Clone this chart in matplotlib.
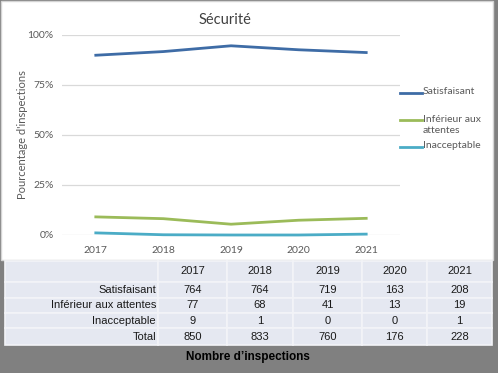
import matplotlib
matplotlib.use("Agg")
import matplotlib.pyplot as plt
from matplotlib.patches import Rectangle
from matplotlib.lines import Line2D

years = ['2017', '2018', '2019', '2020', '2021']
series = ['Satisfaisant', 'Inférieur aux attentes', 'Inacceptable']
satisfaisant = [764, 764, 719, 163, 208]
inferieur = [77, 68, 41, 13, 19]
inacceptable = [9, 1, 0, 0, 1]
total = [850, 833, 760, 176, 228]
legend_labels = ['Satisfaisant', 'Inférieur aux\nattentes', 'Inacceptable']
colors = ['#3e6ca6', '#9bbb59', '#4bacc6']

counts = [satisfaisant, inferieur, inacceptable]
pct = [[c / t for c, t in zip(row, total)] for row in counts]

W, H = 498, 373
fig = plt.figure(figsize=(W / 100, H / 100), dpi=100, facecolor='#808080')

# background in pixel coordinates: white chart panel + table
bg = fig.add_axes([0, 0, 1, 1])
bg.set_xlim(0, W)
bg.set_ylim(H, 0)
bg.axis('off')
bg.add_patch(Rectangle((1, 1), 492, 259, fc='white', ec='#d4d4d4', lw=1))

col_edges = [5, 158, 227, 293, 362, 427, 492]
row_edges = [261, 282, 298, 313, 328, 345]
for i in range(len(row_edges) - 1):
    for j in range(len(col_edges) - 1):
        bg.add_patch(Rectangle((col_edges[j], row_edges[i]),
                               col_edges[j + 1] - col_edges[j],
                               row_edges[i + 1] - row_edges[i],
                               fc='#e5e8f1', ec='#f3f4f8', lw=1.2))

tfont = dict(family='Liberation Sans', fontsize=8, color='#1a1a1a')
ymid = lambda i: (row_edges[i] + row_edges[i + 1]) / 2
xmid = lambda j: (col_edges[j] + col_edges[j + 1]) / 2
for j, y in enumerate(years):
    bg.text(xmid(j + 1), ymid(0), y, ha='center', va='center', **tfont)
rows = list(zip(series + ['Total'], counts + [total]))
for i, (name, vals) in enumerate(rows):
    bg.text(col_edges[1] - 2, ymid(i + 1), name, ha='right', va='center', **tfont)
    for j, v in enumerate(vals):
        bg.text(xmid(j + 1), ymid(i + 1), str(v), ha='center', va='center', **tfont)

bg.text(248, 357, 'Nombre d\u2019inspections', ha='center', va='center',
        family='Liberation Sans', fontweight='bold', fontsize=8.5, color='black')

# line chart
ax = fig.add_axes([62 / W, (H - 235) / H, 338 / W, 200 / H])
ax.patch.set_alpha(0)
x = range(len(years))
for vals, c in zip(pct, colors):
    ax.plot(x, vals, color=c, lw=2, clip_on=False, zorder=3)
ax.set_xlim(-0.5, len(years) - 0.5)
ax.set_ylim(0, 1)
ax.set_yticks([0, 0.25, 0.5, 0.75, 1])
ax.set_yticklabels(['0%', '25%', '50%', '75%', '100%'])
ax.set_xticks(list(x))
ax.set_xticklabels(years)
for s in ax.spines.values():
    s.set_visible(False)
ax.grid(axis='y', color='#d9d9d9', lw=0.9)
ax.set_axisbelow(True)
ax.tick_params(length=0, labelsize=7.5, labelcolor='#595959', pad=6)
ax.tick_params(axis='x', pad=8)
for lab in ax.get_xticklabels() + ax.get_yticklabels():
    lab.set_family('Lato')
ax.set_ylabel("Pourcentage d'inspections", family='Lato', fontsize=8,
              color='#595959', labelpad=0)

fig.text(225 / W, 1 - 20 / H, 'Sécurité', ha='center', va='center',
         family='Lato', fontsize=10.5, color='#404040')

# legend
leg_y = [92.5, 120, 146.5]
for lab, c, ly in zip(legend_labels, colors, leg_y):
    bg.add_line(Line2D([400, 422], [ly, ly], color=c, lw=2))
    bg.text(423, ly - 5.5, lab, ha='left', va='top', family='Lato', fontsize=7.5,
            color='#595959', linespacing=1.3)

fig.savefig('out.png', dpi=100, facecolor=fig.get_facecolor())
